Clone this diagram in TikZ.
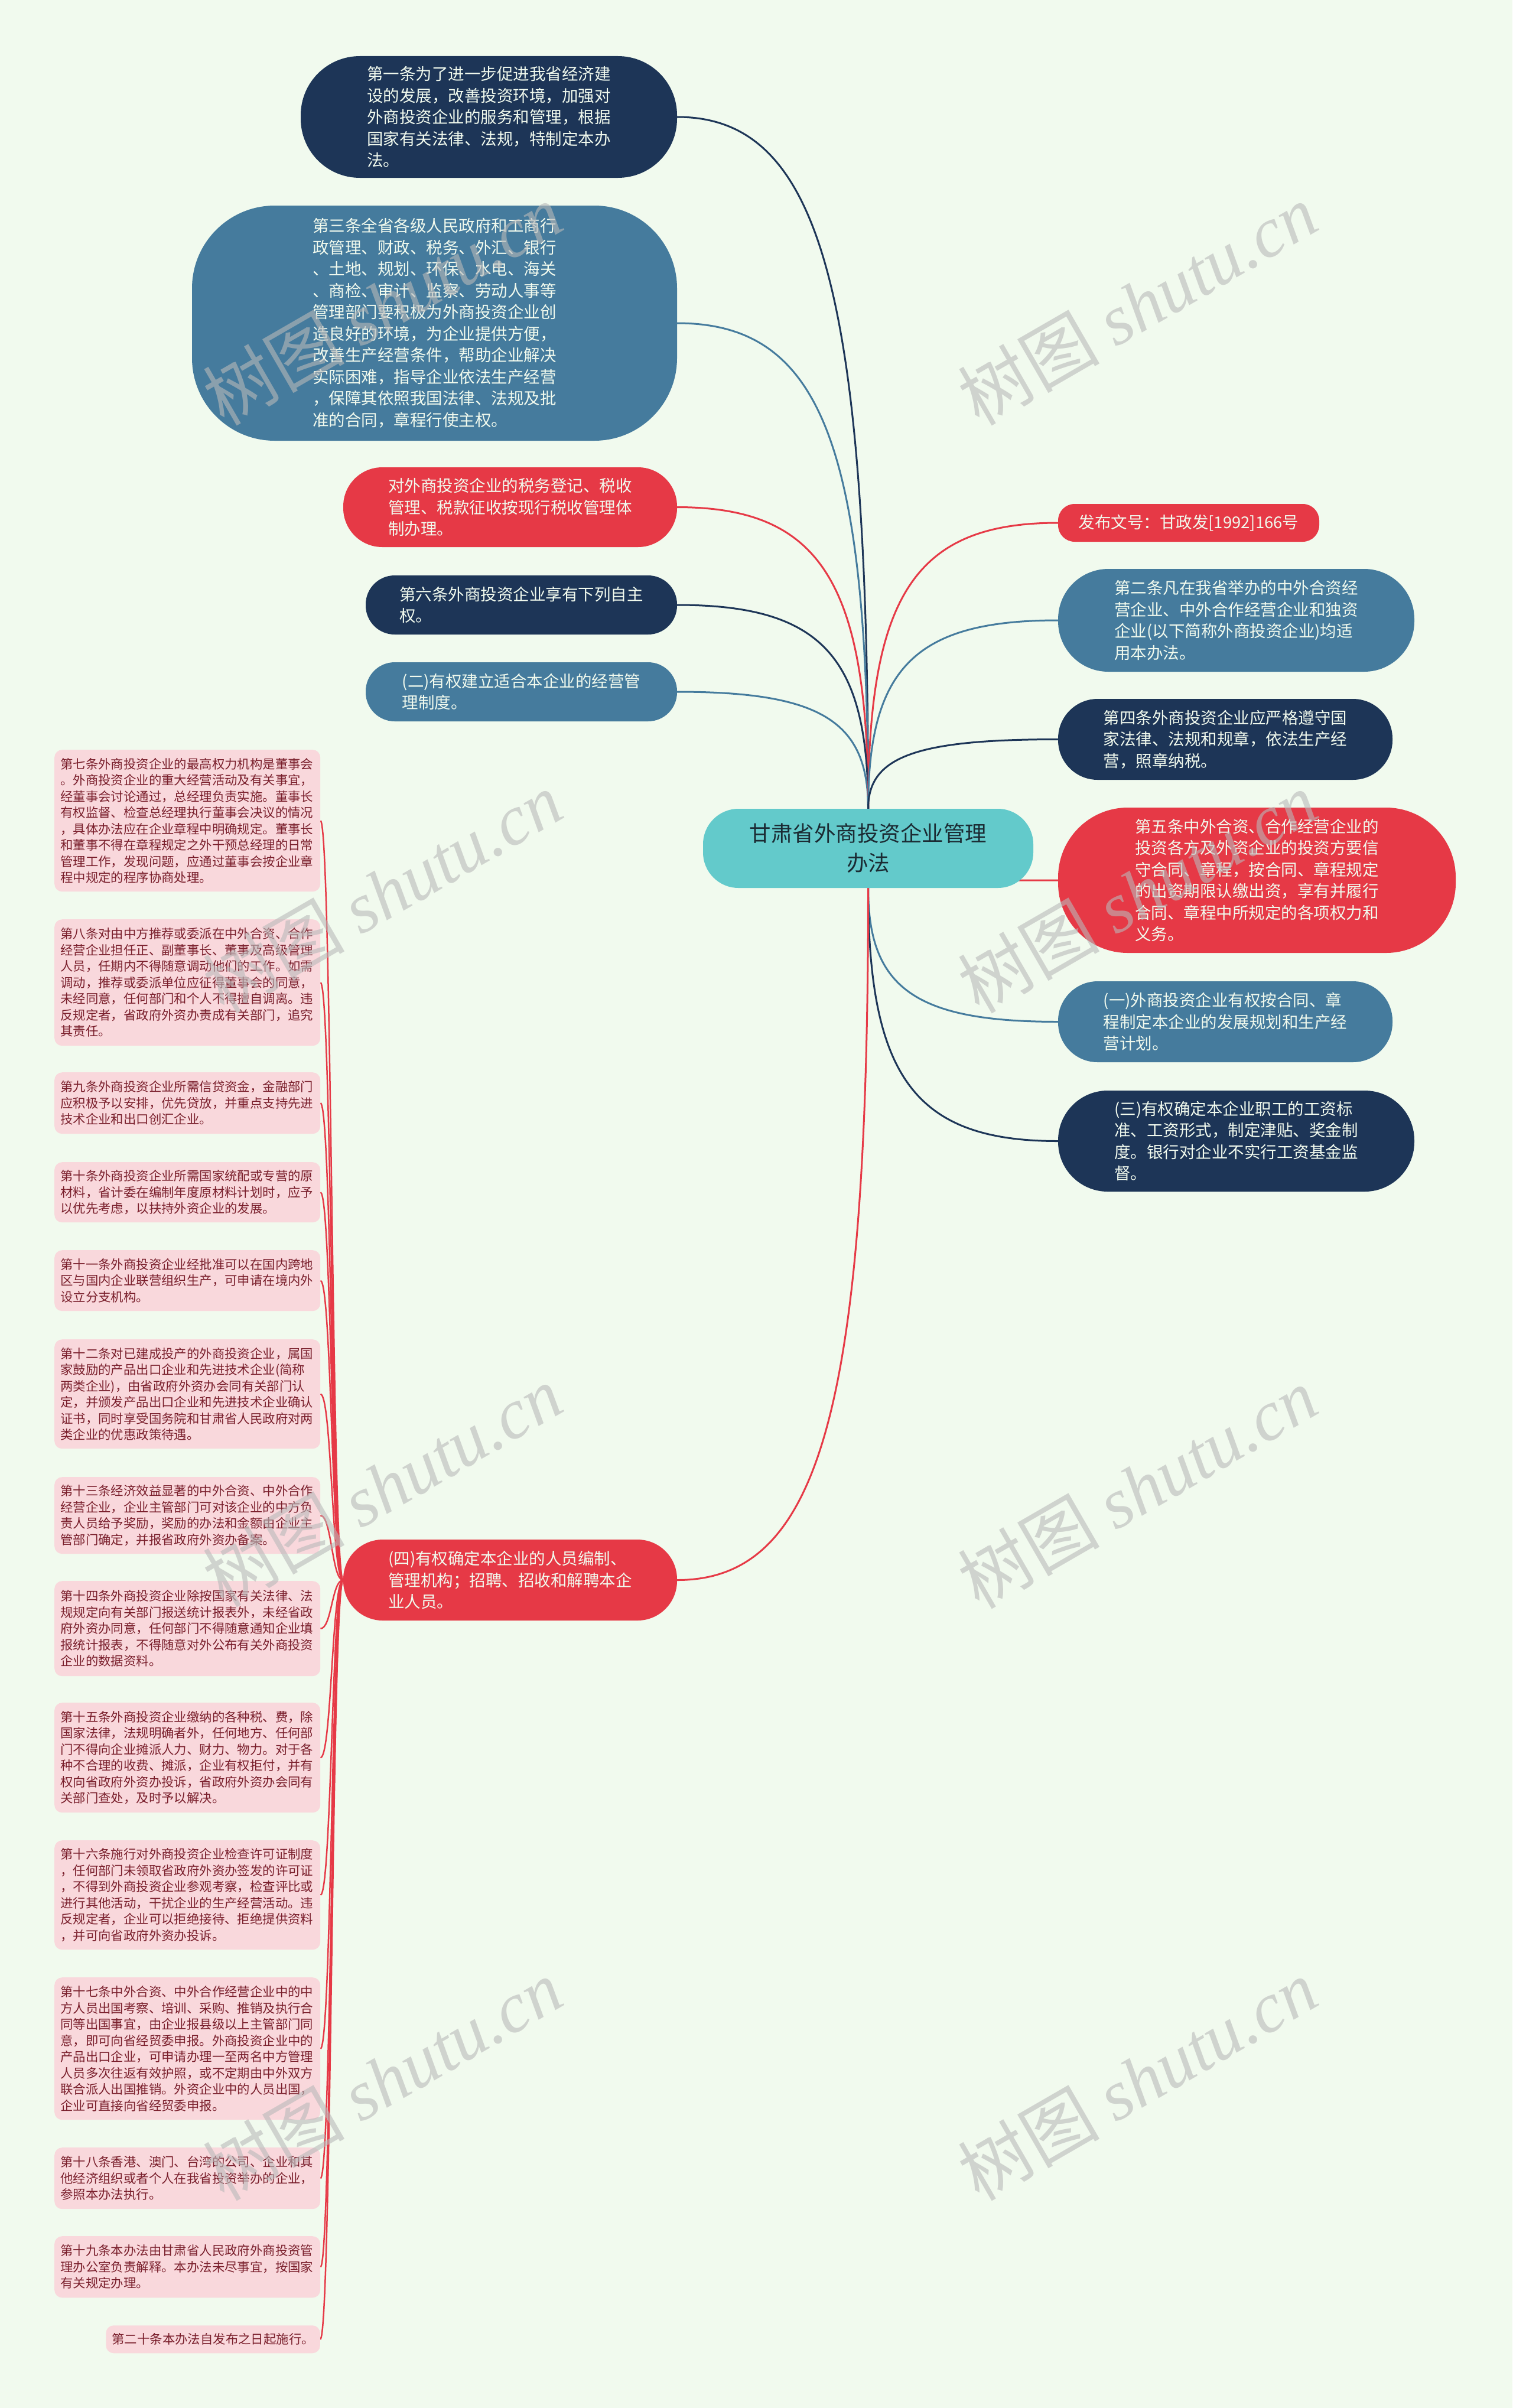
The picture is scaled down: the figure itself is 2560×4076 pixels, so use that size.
\documentclass[tikz,border=0pt]{standalone}
\usepackage{fontspec}
\setmainfont{Noto Sans CJK SC}
\newfontfamily\wmlatin{Liberation Serif}
\usetikzlibrary{calc}
\definecolor{cBg}{HTML}{F1FAEE}
\definecolor{cNavy}{HTML}{1D3557}
\definecolor{cSteel}{HTML}{457B9D}
\definecolor{cRed}{HTML}{E63946}
\definecolor{cTeal}{HTML}{63CACB}
\definecolor{cPink}{HTML}{F9D8DC}
\definecolor{cPinkTxt}{HTML}{7A1F2C}
\definecolor{cCtrTxt}{HTML}{1B2B33}
\definecolor{cWhite}{HTML}{F1FAEE}
\definecolor{cWm}{RGB}{185,185,185}
\pgfdeclarelayer{back}
\pgfdeclarelayer{lines}
\pgfsetlayers{back,lines,main}
\tikzset{
  big/.style={rectangle, text=cWhite, align=left, inner sep=0pt,
    font=\fontsize{27.5}{36.5}\selectfont},
  ctr/.style={rectangle, fill=cTeal, text=cCtrTxt, align=center, inner sep=0pt,
    font=\fontsize{36.5}{50}\selectfont},
  pinkbox/.style={rectangle, fill=cPink, rounded corners=13pt, text=cPinkTxt,
    align=left, inner xsep=10pt, inner ysep=0pt,
    font=\fontsize{21.4}{27.5}\selectfont},
  pinkwide/.style={text width=430pt, anchor=north west},
  lnNavy/.style={draw=cNavy, line width=3pt},
  lnSteel/.style={draw=cSteel, line width=3pt},
  lnRed/.style={draw=cRed, line width=3pt},
  lnPink/.style={draw=cRed, line width=2.5pt},
  wmark/.style={text=cWm, text opacity=0.6, inner sep=0pt, rotate=30,
    font=\fontsize{120}{120}\selectfont}
}
\newcommand\mmlink[3]{\draw[#1] (#2) .. controls ($(#2)!0.75!(#2 |- #3)$) and ($(#3)!0.75!(#2 |- #3)$) .. (#3);}
\newcommand\pinklink[2]{\draw[lnPink] (#1) .. controls ($(#1)!0.5!(#1 -| #2)$) and ($(#2)!0.5!(#2 -| #1)$) .. (#2);}
\begin{document}
\begin{tikzpicture}[x=1pt, y=-1pt]
\begin{pgfonlayer}{back}
\fill[cBg] (0,0) rectangle (2560,4076);
\end{pgfonlayer}

% central
\node[ctr, rounded corners=60pt, minimum width=559pt, minimum height=134pt] (c) at (1469.5,1436) {甘肃省外商投资企业管理\\办法};

% left big nodes
\node[big, fill=cNavy, rounded corners=100pt, minimum width=637pt, minimum height=206pt] (n1) at (827.5,198) {第一条为了进一步促进我省经济建\\设的发展，改善投资环境，加强对\\外商投资企业的服务和管理，根据\\国家有关法律、法规，特制定本办\\法。};
\node[big, fill=cSteel, rounded corners=140pt, minimum width=821pt, minimum height=398pt] (n3) at (735.5,547) {第三条全省各级人民政府和工商行\\政管理、财政、税务、外汇、银行\\、土地、规划、环保、水电、海关\\、商检、审计、监察、劳动人事等\\管理部门要积极为外商投资企业创\\造良好的环境，为企业提供方便，\\改善生产经营条件，帮助企业解决\\实际困难，指导企业依法生产经营\\，保障其依照我国法律、法规及批\\准的合同，章程行使主权。};
\node[big, fill=cRed, rounded corners=66pt, minimum width=565pt, minimum height=135pt] (ntax) at (863.5,858.5) {对外商投资企业的税务登记、税收\\管理、税款征收按现行税收管理体\\制办理。};
\node[big, fill=cNavy, rounded corners=49pt, minimum width=527pt, minimum height=100pt] (n6) at (882.5,1024) {第六条外商投资企业享有下列自主\\权。};
\node[big, fill=cSteel, rounded corners=49pt, minimum width=527pt, minimum height=100pt] (n2b) at (882.5,1171) {(二)有权建立适合本企业的经营管\\理制度。};
\node[big, fill=cRed, rounded corners=67pt, minimum width=565pt, minimum height=137pt] (n4) at (863.5,2674.5) {(四)有权确定本企业的人员编制、\\管理机构；招聘、招收和解聘本企\\业人员。};

% right big nodes
\node[big, fill=cRed, rounded corners=28pt, minimum width=442pt, minimum height=64pt] (r0) at (2012,885) {发布文号：甘政发[1992]166号};
\node[big, fill=cSteel, rounded corners=85pt, minimum width=603pt, minimum height=174pt] (r2) at (2092.5,1050) {第二条凡在我省举办的中外合资经\\营企业、中外合作经营企业和独资\\企业(以下简称外商投资企业)均适\\用本办法。};
\node[big, fill=cNavy, rounded corners=67pt, minimum width=566pt, minimum height=137pt] (r4) at (2074,1251.5) {第四条外商投资企业应严格遵守国\\家法律、法规和规章，依法生产经\\营，照章纳税。};
\node[big, fill=cRed, rounded corners=118pt, minimum width=673pt, minimum height=246pt] (r5) at (2127.5,1490) {第五条中外合资、合作经营企业的\\投资各方及外资企业的投资方要信\\守合同、章程，按合同、章程规定\\的出资期限认缴出资，享有并履行\\合同、章程中所规定的各项权力和\\义务。};
\node[big, fill=cSteel, rounded corners=67pt, minimum width=566pt, minimum height=137pt] (r1) at (2074,1729.5) {(一)外商投资企业有权按合同、章\\程制定本企业的发展规划和生产经\\营计划。};
\node[big, fill=cNavy, rounded corners=84pt, minimum width=603pt, minimum height=171pt] (r3) at (2092.5,1931.5) {(三)有权确定本企业职工的工资标\\准、工资形式，制定津贴、奖金制\\度。银行对企业不实行工资基金监\\督。};

% pink nodes
\node[pinkbox, pinkwide, minimum height=240pt] (p7) at (92,1269) {第七条外商投资企业的最高权力机构是董事会\\。外商投资企业的重大经营活动及有关事宜，\\经董事会讨论通过，总经理负责实施。董事长\\有权监督、检查总经理执行董事会决议的情况\\，具体办法应在企业章程中明确规定。董事长\\和董事不得在章程规定之外干预总经理的日常\\管理工作，发现问题，应通过董事会按企业章\\程中规定的程序协商处理。};
\node[pinkbox, pinkwide, minimum height=214pt] (p8) at (92,1556) {第八条对由中方推荐或委派在中外合资、合作\\经营企业担任正、副董事长、董事及高级管理\\人员，任期内不得随意调动他们的工作。如需\\调动，推荐或委派单位应征得董事会的同意，\\未经同意，任何部门和个人不得擅自调离。违\\反规定者，省政府外资办责成有关部门，追究\\其责任。};
\node[pinkbox, pinkwide, minimum height=104pt] (p9) at (92,1815) {第九条外商投资企业所需信贷资金，金融部门\\应积极予以安排，优先贷放，并重点支持先进\\技术企业和出口创汇企业。};
\node[pinkbox, pinkwide, minimum height=102pt] (p10) at (92,1967) {第十条外商投资企业所需国家统配或专营的原\\材料，省计委在编制年度原材料计划时，应予\\以优先考虑，以扶持外资企业的发展。};
\node[pinkbox, pinkwide, minimum height=103pt] (p11) at (92,2116) {第十一条外商投资企业经批准可以在国内跨地\\区与国内企业联营组织生产，可申请在境内外\\设立分支机构。};
\node[pinkbox, pinkwide, minimum height=185pt] (p12) at (92,2267) {第十二条对已建成投产的外商投资企业，属国\\家鼓励的产品出口企业和先进技术企业(简称\\两类企业)，由省政府外资办会同有关部门认\\定，并颁发产品出口企业和先进技术企业确认\\证书，同时享受国务院和甘肃省人民政府对两\\类企业的优惠政策待遇。};
\node[pinkbox, pinkwide, minimum height=130pt] (p13) at (92,2500) {第十三条经济效益显著的中外合资、中外合作\\经营企业，企业主管部门可对该企业的中方负\\责人员给予奖励，奖励的办法和金额由企业主\\管部门确定，并报省政府外资办备案。};
\node[pinkbox, pinkwide, minimum height=161pt] (p14) at (92,2676) {第十四条外商投资企业除按国家有关法律、法\\规规定向有关部门报送统计报表外，未经省政\\府外资办同意，任何部门不得随意通知企业填\\报统计报表，不得随意对外公布有关外商投资\\企业的数据资料。};
\node[pinkbox, pinkwide, minimum height=186pt] (p15) at (92,2882) {第十五条外商投资企业缴纳的各种税、费，除\\国家法律，法规明确者外，任何地方、任何部\\门不得向企业摊派人力、财力、物力。对于各\\种不合理的收费、摊派，企业有权拒付，并有\\权向省政府外资办投诉，省政府外资办会同有\\关部门查处，及时予以解决。};
\node[pinkbox, pinkwide, minimum height=185pt] (p16) at (92,3115) {第十六条施行对外商投资企业检查许可证制度\\，任何部门未领取省政府外资办签发的许可证\\，不得到外商投资企业参观考察，检查评比或\\进行其他活动，干扰企业的生产经营活动。违\\反规定者，企业可以拒绝接待、拒绝提供资料\\，并可向省政府外资办投诉。};
\node[pinkbox, pinkwide, minimum height=241pt] (p17) at (92,3347) {第十七条中外合资、中外合作经营企业中的中\\方人员出国考察、培训、采购、推销及执行合\\同等出国事宜，由企业报县级以上主管部门同\\意，即可向省经贸委申报。外商投资企业中的\\产品出口企业，可申请办理一至两名中方管理\\人员多次往返有效护照，或不定期由中外双方\\联合派人出国推销。外资企业中的人员出国，\\企业可直接向省经贸委申报。};
\node[pinkbox, pinkwide, minimum height=104pt] (p18) at (92,3635) {第十八条香港、澳门、台湾的公司、企业和其\\他经济组织或者个人在我省投资举办的企业，\\参照本办法执行。};
\node[pinkbox, pinkwide, minimum height=104pt] (p19) at (92,3785) {第十九条本办法由甘肃省人民政府外商投资管\\理办公室负责解释。本办法未尽事宜，按国家\\有关规定办理。};
\node[pinkbox, anchor=north east, minimum height=47pt] (p20) at (542,3936) {第二十条本办法自发布之日起施行。};

% connectors
\begin{pgfonlayer}{lines}
\mmlink{lnNavy}{c.north}{n1.east}
\mmlink{lnSteel}{c.north}{n3.east}
\mmlink{lnRed}{c.north}{ntax.east}
\mmlink{lnNavy}{c.north}{n6.east}
\mmlink{lnSteel}{c.north}{n2b.east}
\mmlink{lnRed}{c.north}{r0.west}
\mmlink{lnSteel}{c.north}{r2.west}
\mmlink{lnNavy}{c.north}{r4.west}
\mmlink{lnRed}{c.south}{r5.west}
\mmlink{lnSteel}{c.south}{r1.west}
\mmlink{lnNavy}{c.south}{r3.west}
\mmlink{lnRed}{c.south}{n4.east}
\pinklink{n4.west}{p7.east}
\pinklink{n4.west}{p8.east}
\pinklink{n4.west}{p9.east}
\pinklink{n4.west}{p10.east}
\pinklink{n4.west}{p11.east}
\pinklink{n4.west}{p12.east}
\pinklink{n4.west}{p13.east}
\pinklink{n4.west}{p14.east}
\pinklink{n4.west}{p15.east}
\pinklink{n4.west}{p16.east}
\pinklink{n4.west}{p17.east}
\pinklink{n4.west}{p18.east}
\pinklink{n4.west}{p19.east}
\pinklink{n4.west}{p20.east}
\end{pgfonlayer}

% watermarks
\node[wmark] (w1) at (647,515) {树图 {\wmlatin\itshape shutu.cn}};
\node[wmark] (w2) at (1925,515) {树图 {\wmlatin\itshape shutu.cn}};
\node[wmark] (w3) at (647,1510) {树图 {\wmlatin\itshape shutu.cn}};
\node[wmark] (w4) at (1925,1510) {树图 {\wmlatin\itshape shutu.cn}};
\node[wmark] (w5) at (647,2515) {树图 {\wmlatin\itshape shutu.cn}};
\node[wmark] (w6) at (1925,2518) {树图 {\wmlatin\itshape shutu.cn}};
\node[wmark] (w7) at (647,3520) {树图 {\wmlatin\itshape shutu.cn}};
\node[wmark] (w8) at (1925,3520) {树图 {\wmlatin\itshape shutu.cn}};
\end{tikzpicture}
\end{document}
